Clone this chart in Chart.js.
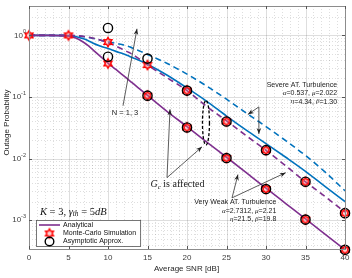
<!DOCTYPE html>
<html><head><meta charset="utf-8">
<script src="https://cdn.jsdelivr.net/npm/chart.js@4.4.0/dist/chart.umd.min.js"></script>
<style>html,body{margin:0;padding:0;background:#fff;}canvas{display:block;}</style>
</head><body>
<canvas id="c" width="352" height="278"></canvas>
<script>
// ---------- data ----------
const snrCurve = [0,2.5,5,6,7,7.5,8,9,10,11,12,12.5,13,14,15,17.5,20,22.5,25,27.5,30,32.5,35,37.5,40];
const weakSolid    = [1,1,0.98,0.90,0.76,0.68,0.60,0.46,0.355,0.28,0.22,0.195,0.172,0.135,0.106,0.058,0.033,0.0185,0.0105,0.0059,0.0033,0.00186,0.00105,0.00059,0.00033];
const weakDashed   = [1,1,1,0.99,0.96,0.94,0.91,0.84,0.76,0.67,0.58,0.54,0.50,0.41,0.33,0.205,0.127,0.07,0.041,0.0235,0.0136,0.0076,0.0042,0.0024,0.00135];
const severeSolid  = [1,1,0.99,0.95,0.87,0.82,0.76,0.67,0.61,0.55,0.50,0.47,0.44,0.39,0.34,0.225,0.14,0.085,0.049,0.029,0.0175,0.0105,0.0062,0.0035,0.002];
const severeDashed = [1,1,1,0.98,0.95,0.93,0.90,0.84,0.79,0.74,0.70,0.67,0.63,0.56,0.49,0.35,0.235,0.15,0.092,0.055,0.033,0.0195,0.0112,0.006,0.003];

const snrMarks = [0,5,10,15,20,25,30,35,40];
const mcWeakSolid = [1,1,0.35,0.105,0.032,0.0102,0.0032,0.00102,0.00033];
const snrMarks2 = [10,15,20,25,30,35,40];
const mcWeakDashed = [0.78,0.33,0.127,0.04,0.0137,0.0042,0.0013];
const asymWeakSolid = [0.45,0.105,0.032,0.0102,0.0032,0.00102,0.00033];
const asymWeakDashed = [1.32,0.42,0.127,0.04,0.0137,0.0042,0.0013];

const xTickValues = [0,5,10,15,20,25,30,35,40];
const yTickExponents = [0,-1,-2,-3];
const xTitle = 'Average SNR [dB]';
const yTitle = 'Outage Probability';
const legendLabels = ['Analytical','Monte-Carlo Simulation','Asymptotic Approx.'];

const PURPLE = '#7E2F8E', BLUE = '#0072BD';
const SANS = '"Liberation Sans", Arial, sans-serif';
const SERIF = '"Liberation Serif", "Times New Roman", serif';

const pts = (xs, ys) => xs.map((x, i) => ({x, y: ys[i]}));

function makeHexagram(r, color, lw) {
  const s = 16;
  const c = document.createElement('canvas'); c.width = s; c.height = s;
  const g = c.getContext('2d'); const cx = s/2, cy = s/2;
  g.beginPath();
  for (let k = 0; k < 12; k++) {
    const a = -Math.PI/2 + k*Math.PI/6;
    const rr = k % 2 === 0 ? r : r/Math.sqrt(3);
    g.lineTo(cx + rr*Math.cos(a), cy + rr*Math.sin(a));
  }
  g.closePath(); g.fillStyle = 'rgba(255,120,120,0.35)'; g.fill();
  g.strokeStyle = color; g.lineWidth = lw; g.stroke();
  return c;
}
const starImg = makeHexagram(4.6, '#ff0000', 1.4);

const lineDs = (label, data, color, dashed) => ({
  label, data: pts(snrCurve, data), borderColor: color, borderWidth: 1.6,
  borderDash: dashed ? [6,4] : [], pointRadius: 0, cubicInterpolationMode: 'monotone', fill: false, order: 10
});
const starDs = (xs, ys) => ({ data: pts(xs, ys), showLine: false, pointStyle: starImg, pointRadius: 5, clip: false, order: 5 });
const circDs = (xs, ys) => ({ data: pts(xs, ys), showLine: false, pointStyle: 'circle', pointRadius: 4.6,
  borderColor: '#000', borderWidth: 1.4, backgroundColor: 'rgba(0,0,0,0)', clip: false, order: 1 });

// ---------- custom drawing ----------
function drawArrow(ctx, a, b) {
  ctx.beginPath(); ctx.moveTo(a[0], a[1]); ctx.lineTo(b[0], b[1]); ctx.stroke();
  const ang = Math.atan2(b[1]-a[1], b[0]-a[0]), L = 6, W = 2.3;
  ctx.beginPath();
  ctx.moveTo(b[0], b[1]);
  ctx.lineTo(b[0] - L*Math.cos(ang) + W*Math.sin(ang), b[1] - L*Math.sin(ang) - W*Math.cos(ang));
  ctx.lineTo(b[0] - L*0.7*Math.cos(ang), b[1] - L*0.7*Math.sin(ang));
  ctx.lineTo(b[0] - L*Math.cos(ang) - W*Math.sin(ang), b[1] - L*Math.sin(ang) + W*Math.cos(ang));
  ctx.closePath(); ctx.fill();
}
function richText(ctx, segs, x, y, size, align) {
  let w = 0;
  const fontOf = s => `${s.i ? 'italic ' : ''}${s.sub ? size*0.7 : size}px ${s.f || SERIF}`;
  segs.forEach(s => { ctx.font = fontOf(s); s.w = ctx.measureText(s.t).width; w += s.w; });
  let cx = align === 'right' ? x - w : align === 'center' ? x - w/2 : x;
  ctx.textAlign = 'left'; ctx.textBaseline = 'middle';
  segs.forEach(s => { ctx.font = fontOf(s); ctx.fillText(s.t, cx, y + (s.sub ? size*0.25 : 0)); cx += s.w; });
}

const gridPlugin = {
  id: 'gridPlugin',
  beforeDatasetsDraw(chart) {
    const {ctx, chartArea: ca, scales: {x: xs, y: ys}} = chart;
    ctx.save();
    ctx.beginPath(); ctx.rect(ca.left, ca.top, ca.width, ca.height); ctx.clip();
    ctx.lineWidth = 1;
    for (let v = 0; v <= 40; v++) {
      const p = Math.round(xs.getPixelForValue(v)) + 0.5;
      const major = v % 5 === 0;
      ctx.strokeStyle = 'rgba(0,0,0,0.13)';
      ctx.setLineDash(major ? [] : [1,2]);
      ctx.beginPath(); ctx.moveTo(p, ca.top); ctx.lineTo(p, ca.bottom); ctx.stroke();
    }
    for (let e = -4; e <= 0; e++) {
      for (let m = 1; m <= 9; m++) {
        const val = m * Math.pow(10, e);
        if (val < ys.min || val > ys.max) continue;
        const p = Math.round(ys.getPixelForValue(val)) + 0.5;
        ctx.strokeStyle = 'rgba(0,0,0,0.13)';
        ctx.setLineDash(m === 1 ? [] : [1,2]);
        ctx.beginPath(); ctx.moveTo(ca.left, p); ctx.lineTo(ca.right, p); ctx.stroke();
      }
    }
    ctx.restore();
  },
  afterDatasetsDraw(chart) {
    const {ctx, chartArea: ca, scales: {x: xs, y: ys}} = chart;
    const P = (x, y) => [xs.getPixelForValue(x), ys.getPixelForValue(y)];
    ctx.save();
    ctx.strokeStyle = '#8c8c8c'; ctx.lineWidth = 1; ctx.setLineDash([]);
    ctx.strokeRect(Math.round(ca.left)+0.5, Math.round(ca.top)+0.5, Math.round(ca.width), Math.round(ca.height));
    ctx.strokeStyle = '#555';
    xTickValues.forEach(v => {
      const p = Math.round(xs.getPixelForValue(v)) + 0.5;
      ctx.beginPath(); ctx.moveTo(p, ca.bottom); ctx.lineTo(p, ca.bottom - 3);
      ctx.moveTo(p, ca.top); ctx.lineTo(p, ca.top + 3); ctx.stroke();
    });
    yTickExponents.forEach(e => {
      const p = Math.round(ys.getPixelForValue(Math.pow(10, e))) + 0.5;
      ctx.beginPath(); ctx.moveTo(ca.left, p); ctx.lineTo(ca.left + 3, p);
      ctx.moveTo(ca.right, p); ctx.lineTo(ca.right - 3, p); ctx.stroke();
    });
    ctx.fillStyle = '#404040';
    ctx.font = `8px ${SANS}`; ctx.textAlign = 'center'; ctx.textBaseline = 'middle';
    xTickValues.forEach(v => ctx.fillText(String(v), xs.getPixelForValue(v), ca.bottom + 8.5));
    yTickExponents.forEach(e => {
      const p = ys.getPixelForValue(Math.pow(10, e));
      const ex = String(e);
      ctx.font = `5.5px ${SANS}`; const ew = ctx.measureText(ex).width;
      ctx.textAlign = 'left'; ctx.fillText(ex, ca.left - 3 - ew, p - 3.5);
      ctx.font = `8px ${SANS}`; ctx.textAlign = 'right'; ctx.fillText('10', ca.left - 3 - ew, p);
    });
    ctx.fillStyle = '#262626'; ctx.font = `8px ${SANS}`; ctx.textAlign = 'center';
    ctx.fillText(xTitle, (ca.left + ca.right)/2 - 0.5, 268.5);
    ctx.save(); ctx.translate(6.5, (ca.top + ca.bottom)/2 - 5); ctx.rotate(-Math.PI/2);
    ctx.fillText(yTitle, 0, 0); ctx.restore();

    ctx.fillStyle = '#222'; ctx.strokeStyle = '#333'; ctx.lineWidth = 0.8;
    drawArrow(ctx, P(11.9, 0.072), P(13.67, 1.28));
    ctx.font = `7.5px ${SANS}`; ctx.textAlign = 'center'; ctx.textBaseline = 'middle';
    const nP = P(12.15, 0.056); ctx.fillText('N = 1, 3', nP[0], nP[1]);
    const gO = P(17.47, 0.0049);
    drawArrow(ctx, gO, P(17.85, 0.063));
    drawArrow(ctx, gO, P(21.9, 0.0155));
    const gP = P(18.8, 0.0038);
    richText(ctx, [{t:'G', i:true}, {t:'c', i:true, sub:true}, {t:' is affected'}], gP[0], gP[1], 10, 'center');
    const eT = P(22.4, 0.088), eB = P(22.4, 0.0165);
    ctx.save(); ctx.setLineDash([3,2]); ctx.lineWidth = 1.3; ctx.strokeStyle = '#000';
    ctx.beginPath(); ctx.ellipse(eT[0], (eT[1]+eB[1])/2, 3.5, (eB[1]-eT[1])/2, 0, 0, Math.PI*2); ctx.stroke();
    ctx.restore();
    ctx.fillStyle = '#222';
    const sO = P(29.1, 0.069);
    drawArrow(ctx, sO, P(27.7, 0.052));
    drawArrow(ctx, sO, P(29.1, 0.025));
    ctx.textAlign = 'right'; ctx.font = `7px ${SANS}`;
    let t = P(39.0, 0.157); ctx.fillText('Severe AT. Turbulence', t[0], t[1]);
    t = P(39.0, 0.115); richText(ctx, [{t:'α', i:true, f:SERIF}, {t:'=0.537, ', f:SANS}, {t:'μ', i:true, f:SERIF}, {t:'=2.022', f:SANS}], t[0], t[1], 7, 'right');
    t = P(39.0, 0.084); richText(ctx, [{t:'η', i:true, f:SERIF}, {t:'=4.34, ', f:SANS}, {t:'β', i:true, f:SERIF}, {t:'=1.30', f:SANS}], t[0], t[1], 7, 'right');
    const vO = P(25.7, 0.0023);
    drawArrow(ctx, vO, P(26.45, 0.0055));
    drawArrow(ctx, vO, P(32.5, 0.0059));
    ctx.textAlign = 'right'; ctx.font = `7px ${SANS}`;
    t = P(31.3, 0.0020); ctx.fillText('Very Weak AT. Turbulence', t[0], t[1]);
    t = P(31.3, 0.00141); richText(ctx, [{t:'α', i:true, f:SERIF}, {t:'=2.7312, ', f:SANS}, {t:'μ', i:true, f:SERIF}, {t:'=2.21', f:SANS}], t[0], t[1], 7, 'right');
    t = P(31.3, 0.00105); richText(ctx, [{t:'η', i:true, f:SERIF}, {t:'=21.5, ', f:SANS}, {t:'β', i:true, f:SERIF}, {t:'=19.8', f:SANS}], t[0], t[1], 7, 'right');
    t = P(1.39, 0.00136);
    ctx.fillStyle = '#111';
    richText(ctx, [{t:'K', i:true}, {t:' = 3, '}, {t:'γ', i:true}, {t:'th', i:true, sub:true}, {t:' = 5'}, {t:'dB', i:true}], t[0], t[1], 10.5, 'left');

    ctx.font = `7px ${SANS}`;
    const tw = Math.max(...legendLabels.map(s => ctx.measureText(s).width));
    const lx = ca.left + 7, ly = ca.top + 214, tx = lx + 27;
    const bw = tx - lx + tw + 4, bh = 26;
    ctx.fillStyle = '#fff'; ctx.fillRect(lx, ly, bw, bh);
    ctx.strokeStyle = '#555'; ctx.lineWidth = 0.8; ctx.strokeRect(lx + 0.5, ly + 0.5, bw, bh);
    const rows = [ly + 5, ly + 13.5, ly + 21.5];
    ctx.strokeStyle = PURPLE; ctx.lineWidth = 1.6;
    ctx.beginPath(); ctx.moveTo(lx + 3, rows[0]); ctx.lineTo(lx + 24, rows[0]); ctx.stroke();
    ctx.drawImage(starImg, lx + 13.5 - 8, rows[1] - 8);
    ctx.strokeStyle = '#000'; ctx.lineWidth = 1.4;
    ctx.beginPath(); ctx.arc(lx + 13.5, rows[2], 4.3, 0, Math.PI*2); ctx.stroke();
    ctx.fillStyle = '#111'; ctx.textAlign = 'left'; ctx.textBaseline = 'middle';
    legendLabels.forEach((s, i) => ctx.fillText(s, tx, rows[i]));
    ctx.restore();
  }
};

new Chart(document.getElementById('c'), {
  type: 'line',
  data: {
    datasets: [
      circDs(snrMarks2, asymWeakSolid),
      circDs(snrMarks2, asymWeakDashed),
      starDs(snrMarks, mcWeakSolid),
      starDs(snrMarks2, mcWeakDashed),
      lineDs('Analytical', weakSolid, PURPLE, false),
      lineDs('Analytical', weakDashed, PURPLE, true),
      lineDs('Analytical', severeSolid, BLUE, false),
      lineDs('Analytical', severeDashed, BLUE, true)
    ]
  },
  options: {
    responsive: false, animation: false, devicePixelRatio: 1,
    layout: { padding: { top: 2, right: 7, left: 0, bottom: 0 } },
    plugins: { legend: { display: false }, tooltip: { enabled: false } },
    scales: {
      x: { type: 'linear', min: 0, max: 40, ticks: { display: false }, grid: { display: false }, border: { display: false },
           afterFit(s) { s.height = 29; } },
      y: { type: 'logarithmic', min: 3.4e-4, max: 3, bounds: 'data', ticks: { display: false }, grid: { display: false }, border: { display: false },
           afterFit(s) { s.width = 29; } }
    }
  },
  plugins: [gridPlugin]
});
</script>
</body></html>
